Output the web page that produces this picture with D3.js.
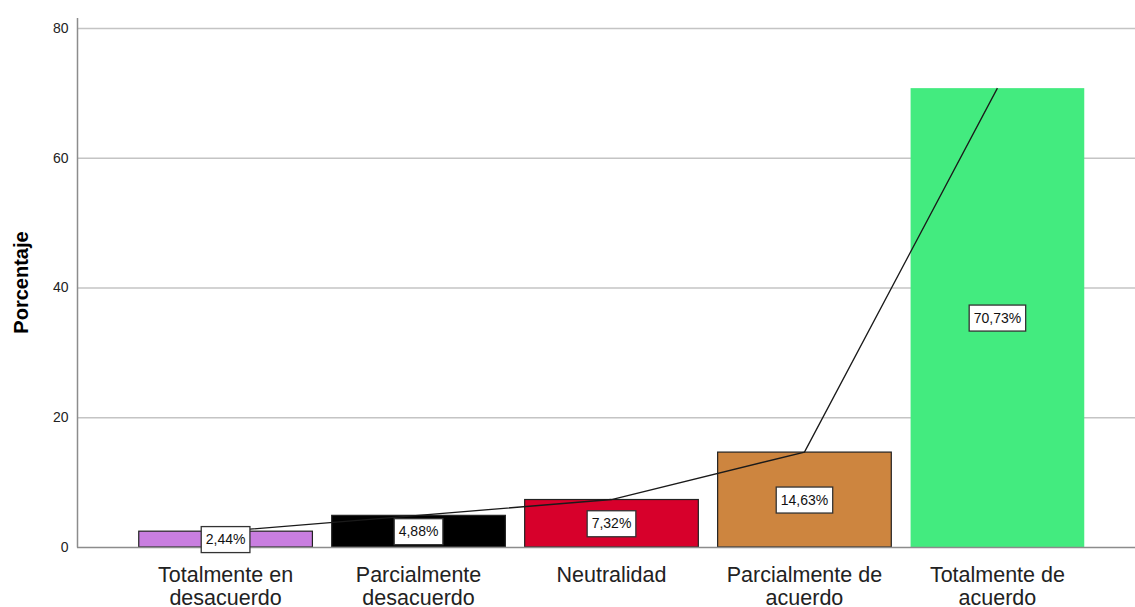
<!DOCTYPE html>
<html>
<head>
<meta charset="utf-8">
<script src="https://cdn.jsdelivr.net/npm/d3@7"></script>
<style>
  body { margin: 0; background: #fff; }
  svg { display: block; font-family: "Liberation Sans", Arial, sans-serif; }
</style>
</head>
<body>
<main></main>
<script>
const categories = [["Totalmente en", "desacuerdo"], ["Parcialmente", "desacuerdo"], ["Neutralidad"], ["Parcialmente de", "acuerdo"], ["Totalmente de", "acuerdo"]]
const values = [2.44, 4.88, 7.32, 14.63, 70.73]
const barColors = ["#c97ee0", "#000000", "#d7002b", "#cd853f", "#43eb7f"]
const yTicks = [0, 20, 40, 60, 80]

const width = 1135
const height = 607
const margin = { top: 18, left: 77, bottom: 60 }

let svg = d3.select("main")
    .append("svg")
    .attr("width", width)
    .attr("height", height)

let idx = d3.range(values.length)

let x = d3.scaleBand()
    .domain(idx)
    .range([margin.left, 1146])
    .paddingInner(0.1)
    .paddingOuter(0.32)

let y = d3.scaleLinear()
    .domain([0, 80])
    .range([547, 28])

// gridlines
svg.append("g")
    .selectAll("line")
    .data(yTicks.slice(1))
    .enter()
    .append("line")
    .attr("x1", margin.left)
    .attr("x2", width)
    .attr("y1", d => y(d) + 0.5)
    .attr("y2", d => y(d) + 0.5)
    .attr("stroke", "#c4c4c4")
    .attr("stroke-width", 1.3)

// y axis
let yAxis = svg.append("g")
    .attr("transform", `translate(${margin.left + 0.5}, 0)`)
    .call(d3.axisLeft(y).tickValues(yTicks).tickSize(0).tickPadding(9))
yAxis.select(".domain").remove()
yAxis.selectAll("text")
    .attr("font-size", 14)
    .attr("font-family", "Liberation Sans, Arial, sans-serif")
    .attr("fill", "#222")

svg.append("line")
    .attr("x1", margin.left + 0.5).attr("x2", margin.left + 0.5)
    .attr("y1", margin.top).attr("y2", y(0) + 0.5)
    .attr("stroke", "#8c8c8c")
    .attr("stroke-width", 1.5)

svg.append("text")
    .attr("transform", `translate(28, ${(margin.top + y(0)) / 2}) rotate(-90)`)
    .attr("text-anchor", "middle")
    .attr("font-size", 20)
    .attr("font-weight", "bold")
    .text("Porcentaje")

// bars
svg.append("g")
    .selectAll("rect")
    .data(idx)
    .enter()
    .append("rect")
    .attr("x", i => x(i))
    .attr("y", i => y(values[i]))
    .attr("width", x.bandwidth())
    .attr("height", i => y(0) - y(values[i]))
    .attr("fill", i => barColors[i])
    .attr("stroke", i => i === 4 ? "none" : "#222")
    .attr("stroke-width", 1.2)

// baseline
svg.append("line")
    .attr("x1", margin.left).attr("x2", width)
    .attr("y1", y(0) + 0.5).attr("y2", y(0) + 0.5)
    .attr("stroke", "#8c8c8c")
    .attr("stroke-width", 1.5)

// line through bar tops
let line = d3.line()
    .x(i => x(i) + x.bandwidth() / 2)
    .y(i => y(values[i]))

svg.append("path")
    .datum(idx)
    .attr("d", line)
    .attr("fill", "none")
    .attr("stroke", "#1a1a1a")
    .attr("stroke-width", 1.3)

// value labels
let labels = svg.append("g")
    .selectAll("g")
    .data(idx)
    .enter()
    .append("g")
    .attr("transform", i => `translate(${x(i) + x.bandwidth() / 2}, ${(y(values[i]) + y(0)) / 2})`)

labels.append("text")
    .attr("text-anchor", "middle")
    .attr("dy", "0.36em")
    .attr("font-size", 14)
    .attr("font-family", "Liberation Sans Narrow, Arial Narrow, Liberation Sans, sans-serif")
    .attr("fill", "#111")
    .text(i => values[i].toFixed(2).replace(".", ",") + "%")
    .each(function() {
        let b = this.getBBox()
        d3.select(this.parentNode).insert("rect", "text")
            .attr("x", -b.width / 2 - 4.5)
            .attr("y", -12.5)
            .attr("width", b.width + 9)
            .attr("height", 26)
            .attr("fill", "#fff")
            .attr("stroke", "#333")
            .attr("stroke-width", 1.3)
    })

// category labels
let cats = svg.append("g")
    .selectAll("text")
    .data(idx)
    .enter()
    .append("text")
    .attr("text-anchor", "middle")
    .attr("x", i => x(i) + x.bandwidth() / 2)
    .attr("y", 582)
    .attr("font-size", 21.5)
    .attr("fill", "#222")

cats.selectAll("tspan")
    .data(i => categories[i])
    .enter()
    .append("tspan")
    .attr("x", function() { return d3.select(this.parentNode).attr("x") })
    .attr("dy", (d, j) => j === 0 ? 0 : 23)
    .text(d => d)
</script>
</body>
</html>
